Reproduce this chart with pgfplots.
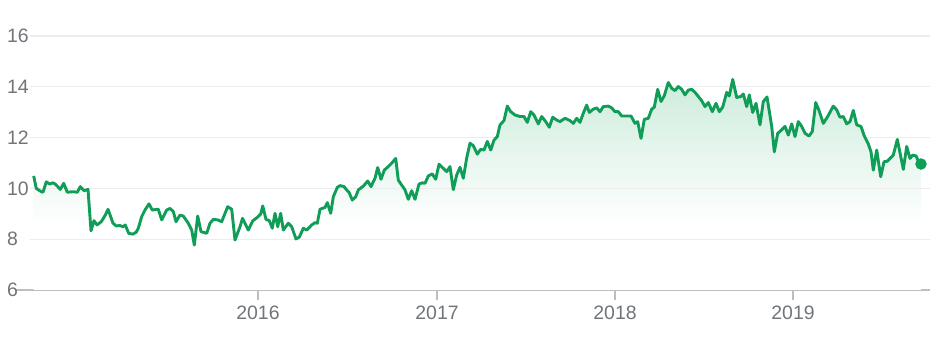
\documentclass[border=0pt]{standalone}
\usepackage{fontspec}
\setmainfont{Liberation Sans}
\usepackage{pgfplots}
\pgfplotsset{compat=1.18}
\usepackage{pgfplotstable}
\definecolor{gline}{RGB}{15,157,88}
\definecolor{gtop}{RGB}{205,236,220}
\definecolor{gridc}{RGB}{236,236,236}
\definecolor{axc}{RGB}{190,190,190}
\definecolor{labc}{RGB}{112,117,122}
\pgfdeclareverticalshading{gfade}{100bp}{color(0bp)=(white); color(25bp)=(white); color(40bp)=(white); color(75bp)=(gtop); color(100bp)=(gtop)}
\pgfplotstableread{
x y
33.7 10.49
36.3 10.00
41.3 9.87
43 9.85
46.3 10.26
49.7 10.17
53 10.22
55.3 10.17
60.3 9.96
63.7 10.20
67.3 9.85
73 9.87
77.3 9.85
80.3 10.07
84 9.91
88 9.96
91 8.33
94 8.73
97 8.56
101.3 8.69
105.3 8.95
108 9.18
113 8.63
116.3 8.52
119.7 8.54
123 8.49
125.3 8.56
128.7 8.23
133 8.20
136.3 8.28
138.3 8.43
141.7 8.89
145 9.15
149 9.39
152.3 9.15
158.3 9.18
161.7 8.76
166.7 9.15
170 9.21
173.3 9.09
176 8.69
180 8.95
183.3 8.91
188.3 8.63
191.7 8.36
194.3 7.77
197.7 8.91
201 8.30
206.7 8.23
210 8.63
213.3 8.78
217.7 8.76
221.7 8.69
227.7 9.28
231.7 9.18
235 7.97
240 8.49
242.5 8.82
248.3 8.36
252.7 8.72
257.3 8.86
260.7 8.99
262.7 9.31
266 8.78
269.3 8.73
272.3 8.43
275 9.02
277.7 8.49
280.7 9.02
283.3 8.36
288.3 8.63
291.7 8.49
296 8.01
299.3 8.08
303.3 8.43
306.7 8.36
311.7 8.56
315 8.65
317.3 8.63
320 9.18
325 9.25
327.3 9.44
330.7 9.02
333.3 9.67
337.3 10.04
340 10.11
344 10.07
347.3 9.91
349 9.85
352.3 9.54
355.7 9.67
358.3 9.94
363.3 10.09
367.7 10.29
371 10.07
375 10.40
377.7 10.82
381 10.36
384.3 10.72
388.3 10.86
392.3 11.02
395.7 11.18
398.3 10.33
401.7 10.13
405 9.94
408.3 9.57
411.7 9.91
415 9.57
419 10.17
422.3 10.22
425 10.20
428.3 10.49
432.3 10.57
435.7 10.36
439 10.95
443.3 10.79
446.7 10.66
450 10.86
453.3 9.95
456.7 10.53
460 10.83
463.3 10.40
466.7 11.20
470 11.78
473.3 11.68
477.3 11.35
480.7 11.54
484 11.51
487.3 11.85
490.7 11.51
494 11.90
497.3 12.04
500 12.50
504 12.67
507.3 13.24
510.7 13.02
515 12.89
520 12.83
524 12.83
527.3 12.60
530.7 13.02
534 12.89
538.3 12.54
541.7 12.83
545.7 12.63
549.3 12.41
552.7 12.80
556.7 12.69
560 12.63
565 12.76
570 12.67
573.3 12.56
576.7 12.76
580 12.60
583.3 12.96
586.7 13.28
589.3 12.99
593.3 13.12
596.7 13.17
600 13.02
603.3 13.22
608.3 13.24
611.7 13.17
615 13.02
618.3 13.02
621.7 12.85
626.7 12.85
631 12.85
635 12.56
637.7 12.63
641 11.97
644.3 12.72
648.3 12.76
651.7 13.12
654.3 13.20
657.7 13.90
661 13.42
664.3 13.65
668.3 14.17
671.7 13.94
675 13.85
678.3 14.01
681.7 13.90
685 13.68
688.3 13.87
691.7 13.90
695 13.78
698.3 13.62
701.7 13.45
705 13.22
708.3 13.38
712.3 13.02
716 13.35
719.3 13.02
722.7 13.20
726.7 13.78
729.3 13.64
732.7 14.29
736.7 13.58
741 13.62
743.3 13.72
746.7 13.22
749.3 13.68
752.7 12.99
756 13.35
760 12.50
763.3 13.42
767 13.60
771.7 12.44
774.3 11.44
777.7 12.17
781 12.28
785 12.44
788.3 12.10
791.7 12.54
795 12.04
798.3 12.63
801.7 12.44
805 12.17
809 12.06
812.3 12.24
815.7 13.38
819 13.07
823.3 12.56
827.7 12.83
833.3 13.24
836.7 13.09
840 12.80
843.3 12.83
846.7 12.54
850 12.63
853.3 13.07
856.7 12.50
861 12.44
864.3 12.06
868.3 11.75
871 11.44
873.3 10.72
876.7 11.51
880.7 10.46
884 11.05
887.3 11.07
893.3 11.31
897.3 11.93
903.3 10.75
906.7 11.65
910 11.18
912.7 11.31
916 11.28
919.3 10.99
921 10.96
}\pricedata
\begin{document}
\begin{tikzpicture}
\begin{axis}[
  at={(16bp,47bp)}, anchor=south west, scale only axis,
  width=914bp, height=254bp,
  xmin=16, xmax=930, ymin=6, ymax=16,
  axis x line*=bottom, axis y line*=left,
  axis line style={-},
  x axis line style={draw=axc, line width=1.5bp},
  y axis line style={draw=none},
  xtick={258,437,615,793}, xticklabels={2016,2017,2018,2019},
  ytick={6,8,10,12,14,16},
  tick align=outside,
  major tick length=10bp,
  xtick style={draw=axc, line width=1.3bp},
  ytick style={draw=none},
  /pgf/number format/assume math mode=true,
  tick label style={font=\fontsize{19.5}{22}\selectfont, text=labc},
  yticklabel style={anchor=west, inner sep=0pt, xshift=1bp},
  xticklabel style={anchor=north, inner sep=0pt, yshift=-6bp},
  clip=false,
]
\addplot[draw=none, shade, shading=gfade, forget plot] table[x=x,y=y]{\pricedata} -- (axis cs:921,6) -- (axis cs:33.7,6) -- cycle;
\draw[gridc, line width=1.2bp] (axis cs:30,8) -- (axis cs:930,8);
\draw[gridc, line width=1.2bp] (axis cs:30,10) -- (axis cs:930,10);
\draw[gridc, line width=1.2bp] (axis cs:30,12) -- (axis cs:930,12);
\draw[gridc, line width=1.2bp] (axis cs:30,14) -- (axis cs:930,14);
\draw[gridc, line width=1.2bp] (axis cs:30,16) -- (axis cs:930,16);
\addplot[gline, line width=2.9bp, line join=round, no markers] table[x=x,y=y]{\pricedata};
\addplot[gline, only marks, mark=*, mark size=5.5bp] coordinates {(921,10.96)};
\end{axis}
\pgfresetboundingbox
\useasboundingbox (0,0) rectangle (939bp,337bp);
\end{tikzpicture}
\end{document}
